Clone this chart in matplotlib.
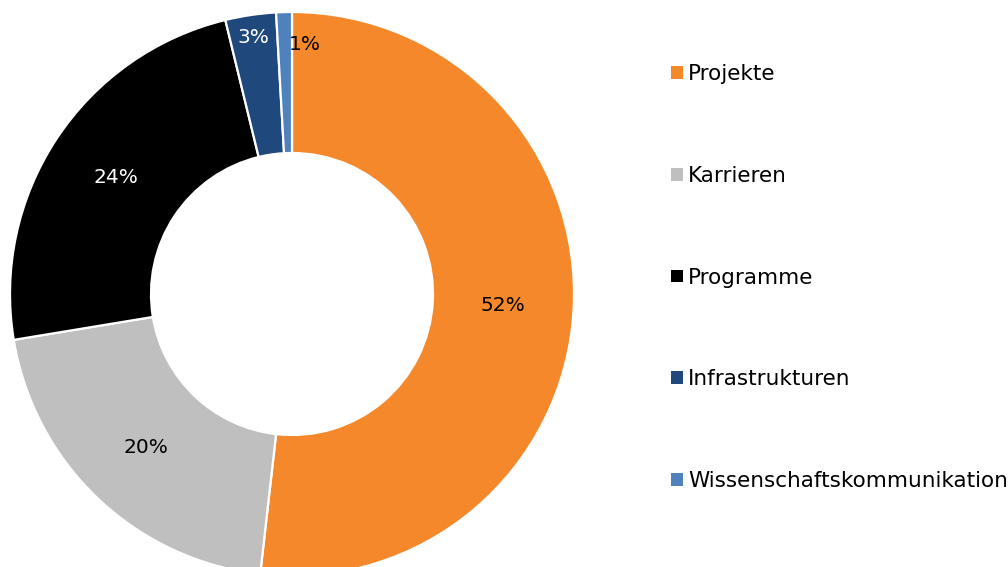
import numpy as np
import matplotlib
matplotlib.use("Agg")
import matplotlib.pyplot as plt
from matplotlib.patches import Patch

# ================================
# Data
# ================================
categories = ["Projekte", "Karrieren", "Programme", "Infrastrukturen",
              "Wissenschaftskommunikation"]
shares = [51.8, 20.6, 23.8, 2.9, 0.9]
pct_labels = ["52%", "20%", "24%", "3%", "1%"]

colors = ["#F5882A", "#BFBFBF", "#000000", "#1F497D", "#4F81BD"]
text_colors = ["black", "black", "white", "white", "black"]
label_radius = [0.75, 0.75, 0.75, 0.92, 0.885]
label_shift = [0, 0, 0, 0, -4.6]   # degrees, nudges the tiny slice label

# ================================
# Figure
# ================================
fig = plt.figure(figsize=(10.08, 5.67), dpi=100)
W, H = 1008, 567
cx, cy, r = 292, 294, 282
ax = fig.add_axes([(cx - r) / W, (H - cy - r) / H, 2 * r / W, 2 * r / H])

wedges, _ = ax.pie(
    shares,
    colors=colors,
    startangle=90,
    counterclock=False,
    radius=1.0,
    wedgeprops=dict(width=0.5, edgecolor="white", linewidth=1.6),
)
ax.set_xlim(-1, 1)
ax.set_ylim(-1, 1)
ax.set_aspect("equal")
ax.axis("off")

for w, lab, tc, rr, sh in zip(wedges, pct_labels, text_colors,
                              label_radius, label_shift):
    theta = np.deg2rad((w.theta1 + w.theta2) / 2 + sh)
    ax.text(rr * np.cos(theta), rr * np.sin(theta), lab,
            ha="center", va="center", fontsize=14.5, color=tc)

handles = [Patch(facecolor=c, edgecolor="none") for c in colors]
fig.legend(
    handles, categories,
    loc="upper left",
    bbox_to_anchor=(671 / W, 1 - 64 / H),
    frameon=False,
    fontsize=15.5,
    handlelength=0.55,
    handleheight=0.55,
    handletextpad=0.25,
    labelspacing=3.8,
    borderaxespad=0,
    borderpad=0,
)

fig.savefig("out.png", dpi=100)
